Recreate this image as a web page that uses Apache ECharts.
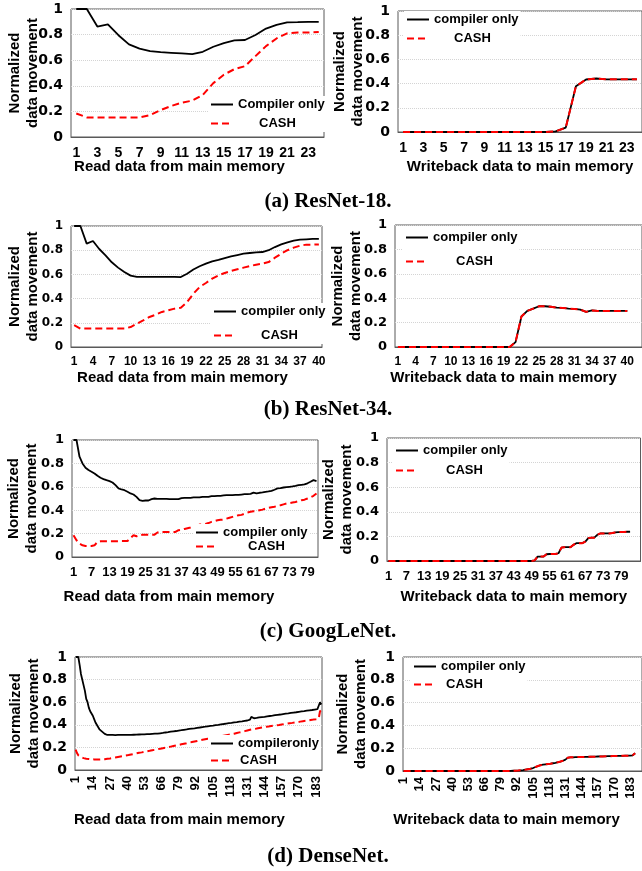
<!DOCTYPE html>
<html>
<head>
<meta charset="utf-8">
<script src="https://cdn.jsdelivr.net/npm/echarts@6/dist/echarts.min.js"></script>
<style>
  html, body { margin: 0; padding: 0; background: #fff; }
  #chart { width: 642px; height: 871px; }
</style>
</head>
<body>
<div id="chart"></div>
<script>
// ---- data ----
const resnet18Count = 24
const resnet18ReadCompiler = [1, 1, 0.863, 0.88, 0.795, 0.724, 0.69, 0.671, 0.663, 0.658, 0.653, 0.647,
  0.666, 0.705, 0.734, 0.755, 0.758, 0.797, 0.847, 0.876, 0.895, 0.897, 0.9, 0.9]
const resnet18ReadCash = [0.184, 0.153, 0.153, 0.153, 0.153, 0.153, 0.153, 0.171, 0.21, 0.242, 0.268, 0.284,
  0.329, 0.421, 0.487, 0.53, 0.553, 0.632, 0.71, 0.77, 0.81, 0.816, 0.816, 0.82]
// writeback: both curves lie on top of each other
const resnet18Write = [0, 0, 0, 0, 0, 0, 0, 0, 0, 0, 0, 0, 0, 0, 0,
  0.005, 0.036, 0.378, 0.434, 0.442, 0.435, 0.435, 0.435, 0.435]

const resnet34Count = 40
const resnet34ReadCompiler = [1, 1, 0.854, 0.876, 0.81, 0.758, 0.7, 0.656, 0.62, 0.59,
  0.579, 0.58, 0.58, 0.58, 0.58, 0.58, 0.58, 0.578, 0.606, 0.64,
  0.667, 0.689, 0.708, 0.72, 0.735, 0.749, 0.76, 0.771, 0.777, 0.782,
  0.785, 0.8, 0.826, 0.848, 0.865, 0.879, 0.887, 0.89, 0.893, 0.893]
const resnet34ReadCash = [0.18, 0.152, 0.152, 0.152, 0.152, 0.152, 0.152, 0.152, 0.152, 0.165,
  0.193, 0.22, 0.248, 0.267, 0.29, 0.303, 0.317, 0.325, 0.372, 0.44,
  0.496, 0.529, 0.565, 0.592, 0.612, 0.628, 0.642, 0.656, 0.669, 0.68,
  0.689, 0.702, 0.738, 0.771, 0.8, 0.821, 0.837, 0.846, 0.846, 0.848]
const resnet34Write = [0, 0, 0, 0, 0, 0, 0, 0, 0, 0, 0, 0, 0, 0, 0, 0, 0, 0, 0, 0,
  0.04, 0.25, 0.296, 0.315, 0.334, 0.334, 0.33, 0.323, 0.32, 0.315,
  0.312, 0.307, 0.288, 0.3, 0.296, 0.296, 0.296, 0.296, 0.296, 0.296]

const googlenetCount = 82
const googlenetReadCompiler = [1, 1, 0.857, 0.8, 0.763, 0.743, 0.729, 0.714, 0.694, 0.677,
  0.666, 0.657, 0.649, 0.637, 0.614, 0.586, 0.577, 0.571, 0.557, 0.543,
  0.534, 0.514, 0.486, 0.48, 0.483, 0.483, 0.494, 0.5, 0.497, 0.497,
  0.497, 0.497, 0.494, 0.494, 0.494, 0.494, 0.503, 0.506, 0.506, 0.506,
  0.509, 0.509, 0.509, 0.514, 0.514, 0.514, 0.52, 0.52, 0.523, 0.523,
  0.526, 0.529, 0.529, 0.529, 0.531, 0.531, 0.534, 0.537, 0.537, 0.54,
  0.55, 0.543, 0.549, 0.552, 0.557, 0.56, 0.566, 0.575, 0.586, 0.589,
  0.594, 0.597, 0.6, 0.603, 0.607, 0.614, 0.617, 0.62, 0.63, 0.643,
  0.657, 0.649]
const googlenetReadCash = [0.186, 0.143, 0.114, 0.1, 0.094, 0.094, 0.094, 0.1, 0.129, 0.134,
  0.134, 0.134, 0.134, 0.134, 0.134, 0.134, 0.137, 0.137, 0.137, 0.163,
  0.186, 0.177, 0.186, 0.191, 0.191, 0.191, 0.191, 0.191, 0.209, 0.214,
  0.214, 0.214, 0.214, 0.214, 0.214, 0.229, 0.233, 0.24, 0.246, 0.252,
  0.26, 0.266, 0.277, 0.28, 0.283, 0.29, 0.3, 0.306, 0.314, 0.318,
  0.32, 0.328, 0.336, 0.343, 0.35, 0.357, 0.36, 0.37, 0.38, 0.386,
  0.391, 0.394, 0.4, 0.405, 0.414, 0.42, 0.426, 0.43, 0.437, 0.443,
  0.45, 0.457, 0.46, 0.465, 0.47, 0.477, 0.485, 0.49, 0.5, 0.51,
  0.523, 0.543]
const googlenetWrite = [0, 0, 0, 0, 0, 0, 0, 0, 0, 0, 0, 0, 0, 0, 0, 0, 0, 0, 0, 0,
  0, 0, 0, 0, 0, 0, 0, 0, 0, 0, 0, 0, 0, 0, 0, 0, 0, 0, 0, 0,
  0, 0, 0, 0, 0, 0, 0, 0, 0,
  0.005, 0.036, 0.036, 0.036, 0.055, 0.057, 0.057, 0.057, 0.063, 0.109,
  0.112, 0.112, 0.112, 0.131, 0.145, 0.145, 0.145, 0.158, 0.186, 0.19,
  0.19, 0.213, 0.224, 0.224, 0.224, 0.224, 0.227, 0.232, 0.235, 0.235,
  0.235, 0.238, 0.238]

const densenetCount = 187
const densenetReadCompiler = [1, 1, 1, 0.93, 0.85, 0.8, 0.79, 0.7, 0.63, 0.6,
  0.55, 0.52, 0.5, 0.48, 0.45, 0.42, 0.4, 0.38, 0.36, 0.35,
  0.34, 0.33, 0.32, 0.315, 0.31, 0.31, 0.31, 0.31, 0.31, 0.309,
  0.309, 0.309, 0.31, 0.31, 0.31, 0.31, 0.31, 0.31, 0.31, 0.31,
  0.31, 0.31, 0.311, 0.311, 0.312, 0.312, 0.313, 0.313, 0.314, 0.314,
  0.315, 0.315, 0.316, 0.316, 0.317, 0.318, 0.318, 0.319, 0.32, 0.321,
  0.322, 0.328, 0.322, 0.323, 0.325, 0.327, 0.328, 0.33, 0.332, 0.333,
  0.335, 0.337, 0.339, 0.34, 0.342, 0.344, 0.345, 0.347, 0.349, 0.351,
  0.352, 0.354, 0.356, 0.357, 0.359, 0.361, 0.363, 0.364, 0.366, 0.368,
  0.369, 0.371, 0.373, 0.375, 0.376, 0.378, 0.38, 0.381, 0.383, 0.385,
  0.387, 0.388, 0.39, 0.392, 0.393, 0.395, 0.397, 0.399, 0.4, 0.402,
  0.404, 0.405, 0.407, 0.409, 0.411, 0.412, 0.414, 0.416, 0.417, 0.419,
  0.421, 0.423, 0.424, 0.426, 0.428, 0.429, 0.431, 0.433, 0.435, 0.436,
  0.438, 0.44, 0.445, 0.47, 0.455, 0.458, 0.46, 0.461, 0.463, 0.465,
  0.466, 0.468, 0.47, 0.471, 0.473, 0.475, 0.476, 0.478, 0.48, 0.481,
  0.483, 0.485, 0.486, 0.488, 0.49, 0.491, 0.493, 0.495, 0.496, 0.498,
  0.5, 0.501, 0.503, 0.505, 0.506, 0.508, 0.51, 0.511, 0.513, 0.515,
  0.516, 0.518, 0.52, 0.521, 0.523, 0.525, 0.526, 0.528, 0.53, 0.531,
  0.533, 0.535, 0.537, 0.538, 0.54, 0.6, 0.58]
const densenetReadCash = [0.18, 0.15, 0.13, 0.12, 0.115, 0.11, 0.105, 0.103, 0.1, 0.1,
  0.098, 0.097, 0.095, 0.094, 0.094, 0.093, 0.092, 0.092, 0.092, 0.093,
  0.093, 0.094, 0.095, 0.097, 0.099, 0.1, 0.102, 0.104, 0.106, 0.108,
  0.11, 0.113, 0.115, 0.117, 0.119, 0.121, 0.123, 0.126, 0.128, 0.13,
  0.132, 0.135, 0.137, 0.14, 0.142, 0.144, 0.147, 0.149, 0.152, 0.154,
  0.156, 0.159, 0.161, 0.163, 0.166, 0.168, 0.17, 0.173, 0.175, 0.177,
  0.179, 0.182, 0.184, 0.186, 0.188, 0.191, 0.193, 0.195, 0.197, 0.2,
  0.202, 0.205, 0.207, 0.21, 0.212, 0.215, 0.217, 0.22, 0.222, 0.225,
  0.227, 0.229, 0.232, 0.234, 0.237, 0.239, 0.242, 0.244, 0.247, 0.249,
  0.252, 0.254, 0.257, 0.259, 0.262, 0.264, 0.267, 0.269, 0.272, 0.274,
  0.277, 0.279, 0.282, 0.284, 0.286, 0.289, 0.291, 0.293, 0.295, 0.297,
  0.3, 0.302, 0.304, 0.306, 0.308, 0.31, 0.312, 0.314, 0.316, 0.318,
  0.321, 0.324, 0.327, 0.33, 0.333, 0.335, 0.338, 0.341, 0.344, 0.347,
  0.35, 0.353, 0.356, 0.358, 0.36, 0.362, 0.364, 0.367, 0.369, 0.371,
  0.373, 0.375, 0.377, 0.379, 0.382, 0.384, 0.385, 0.387, 0.389, 0.391,
  0.392, 0.394, 0.396, 0.398, 0.399, 0.401, 0.403, 0.405, 0.407, 0.408,
  0.41, 0.412, 0.414, 0.415, 0.417, 0.419, 0.421, 0.422, 0.424, 0.426,
  0.428, 0.43, 0.432, 0.434, 0.435, 0.437, 0.439, 0.441, 0.443, 0.445,
  0.446, 0.448, 0.45, 0.452, 0.455, 0.52, 0.53]
const densenetWrite = [0, 0, 0, 0, 0, 0, 0, 0, 0, 0, 0, 0, 0, 0, 0, 0, 0, 0, 0, 0,
  0, 0, 0, 0, 0, 0, 0, 0, 0, 0, 0, 0, 0, 0, 0, 0, 0, 0, 0, 0,
  0, 0, 0, 0, 0, 0, 0, 0, 0, 0, 0, 0, 0, 0, 0, 0, 0, 0, 0, 0,
  0, 0, 0, 0, 0, 0, 0, 0, 0, 0, 0, 0, 0, 0, 0, 0, 0, 0, 0, 0,
  0, 0, 0, 0, 0,
  0.001, 0.001, 0.002, 0.002, 0.002,
  0.003, 0.003, 0.004, 0.005, 0.006, 0.007, 0.008, 0.01, 0.012, 0.014,
  0.016, 0.018, 0.02, 0.023, 0.026, 0.03, 0.035, 0.04, 0.044, 0.048,
  0.051, 0.053, 0.055, 0.057, 0.058, 0.06, 0.061, 0.062, 0.064, 0.066,
  0.068, 0.07, 0.072, 0.074, 0.077, 0.08, 0.083, 0.087, 0.09, 0.095,
  0.1, 0.108, 0.117, 0.119, 0.12, 0.12, 0.12, 0.121, 0.121, 0.121,
  0.122, 0.122, 0.122, 0.123, 0.123, 0.123, 0.124, 0.124, 0.124, 0.125,
  0.125, 0.125, 0.126, 0.126, 0.126, 0.127, 0.127, 0.127, 0.128, 0.128,
  0.128, 0.129, 0.129, 0.129, 0.13, 0.13, 0.13, 0.131, 0.131, 0.131,
  0.132, 0.132, 0.132, 0.133, 0.133, 0.133, 0.133, 0.134, 0.134, 0.134,
  0.134, 0.135, 0.135, 0.136, 0.138, 0.15, 0.155]

const captions = ['(a) ResNet-18.', '(b) ResNet-34.', '(c) GoogLeNet.', '(d) DenseNet.']
const yName = 'Normalized\ndata movement'
const readName = 'Read data from main memory'
const writeName = 'Writeback data to main memory'

// ---- layout of the eight panels ----
function cats (n) {
  const out = []
  for (let i = 1; i <= n; i++) out.push(String(i))
  return out
}

// extra = empty category slots after the data, so the frame runs off the right edge
const panels = [
  { grid: [71, 9, 253, 128], n: resnet18Count, extra: 0, step: 1, rot: 0, xFont: ['Liberation Sans', 14], yFont: 14,
    xName: readName, shift: 18, nameGap: 22, yGap: 29, cName: 'Compiler only',
    c: resnet18ReadCompiler, h: resnet18ReadCash, leg: [208, 96, 6], pad: 21 },
  { grid: [398, 11, 247, 121], n: resnet18Count, extra: 0, step: 1, rot: 0, xFont: ['Liberation Sans', 14], yFont: 14,
    xName: writeName, shift: 0, nameGap: 27, yGap: 31, cName: 'compiler only',
    c: resnet18Write, h: resnet18Write, leg: [404, 11, 6], pad: 20 },
  { grid: [71, 226, 251, 121], n: resnet34Count, extra: 0, step: 2, rot: 0, xFont: ['Liberation Sans', 12], yFont: 12,
    xName: readName, shift: 14, nameGap: 23, yGap: 29, cName: 'compiler only',
    c: resnet34ReadCompiler, h: resnet34ReadCash, leg: [211, 303, 11], pad: 20 },
  { grid: [395, 225, 253, 122], n: resnet34Count, extra: 2, step: 2, rot: 0, xFont: ['Liberation Sans', 12], yFont: 13,
    xName: writeName, shift: 15, nameGap: 23, yGap: 30, cName: 'compiler only',
    c: resnet34Write, h: resnet34Write, leg: [403, 229, 11], pad: 23 },
  { grid: [72, 440, 246, 117], n: googlenetCount, extra: 0, step: 5, rot: 0, xFont: ['Liberation Sans', 13], yFont: 13,
    xName: readName, shift: 26, nameGap: 32, yGap: 31, cName: 'compiler only',
    c: googlenetReadCompiler, h: googlenetReadCash, leg: [193, 524, 1], pad: 25 },
  { grid: [387, 438, 259, 123], n: googlenetCount, extra: 3, step: 5, rot: 0, xFont: ['Liberation Sans', 13], yFont: 13,
    xName: writeName, shift: 0, nameGap: 28, yGap: 31, cName: 'compiler only',
    c: googlenetWrite, h: googlenetWrite, leg: [393, 442, 7], pad: 23 },
  { grid: [75, 657, 247, 113], n: densenetCount, extra: 0, step: 12, rot: 90, xFont: ['Liberation Sans', 13], yFont: 14,
    xName: readName, shift: 19, nameGap: 42, yGap: 32, cName: 'compileronly',
    c: densenetReadCompiler, h: densenetReadCash, leg: [208, 735, 4], pad: 2 },
  { grid: [403, 657, 243, 114], n: densenetCount, extra: 5, step: 12, rot: 90, xFont: ['Liberation Sans', 13], yFont: 14,
    xName: writeName, shift: 16, nameGap: 41, yGap: 33, cName: 'compiler only',
    c: densenetWrite, h: densenetWrite, leg: [411, 658, 5], pad: 5 }
]

const bold = { fontWeight: 'bold', color: '#000' }
const option = {
  animation: false,
  backgroundColor: '#fff',
  grid: [], xAxis: [], yAxis: [], series: [], legend: [], graphic: []
}

panels.forEach((p, i) => {
  option.grid.push({
    left: p.grid[0], top: p.grid[1], width: p.grid[2], height: p.grid[3],
    show: true, borderColor: '#595959', borderWidth: 1, containLabel: false
  })
  option.xAxis.push({
    type: 'category',
    gridIndex: i,
    data: cats(p.n),
    max: p.n - 1 + p.extra,
    boundaryGap: true,
    axisLine: { lineStyle: { color: '#595959' } },
    axisTick: { show: false },
    axisLabel: Object.assign({
      interval: p.step, rotate: p.rot, margin: p.rot ? 6 : 9,
      fontFamily: p.xFont[0], fontSize: p.xFont[1],
      formatter: v => v == null ? '' : v
    }, bold),
    name: p.xName,
    nameLocation: 'middle',
    nameGap: p.nameGap,
    nameMoveOverlap: false,
    nameTextStyle: Object.assign({
      fontFamily: 'Liberation Sans', fontSize: 15, padding: [0, p.shift * 2, 0, 0]
    }, bold)
  })
  option.yAxis.push({
    type: 'value',
    gridIndex: i,
    min: 0, max: 1, interval: 0.2,
    axisLine: { show: false },
    axisTick: { show: false },
    splitLine: { lineStyle: { color: '#d4d4d4', type: 'dotted' } },
    axisLabel: Object.assign({ margin: 8, fontFamily: 'DejaVu Sans', fontSize: p.yFont }, bold),
    name: yName,
    nameLocation: 'middle',
    nameGap: p.yGap,
    nameMoveOverlap: false,
    nameTextStyle: Object.assign({ fontFamily: 'Liberation Sans', fontSize: 15, lineHeight: 18 }, bold)
  })
  option.series.push({
    name: p.cName, type: 'line', xAxisIndex: i, yAxisIndex: i, data: p.c,
    symbol: 'none', z: 2,
    itemStyle: { color: '#000' },
    lineStyle: { color: '#000', width: 1.8 }
  })
  option.series.push({
    name: 'CASH', type: 'line', xAxisIndex: i, yAxisIndex: i, data: p.h,
    symbol: 'none', z: 3,
    itemStyle: { color: '#ff0000' },
    lineStyle: { color: '#ff0000', width: 2, type: [7, 4] }
  })
  option.legend.push({
    orient: 'vertical',
    left: p.leg[0], top: p.leg[1], itemGap: p.leg[2],
    padding: 2,
    backgroundColor: '#fff',
    itemWidth: 22, itemHeight: 14,
    selectedMode: false,
    // hide the marker circle, keep only the line sample
    itemStyle: { color: 'rgba(0,0,0,0)', borderWidth: 0, opacity: 0 },
    data: [p.cName, 'CASH'],
    formatter: name => name === 'CASH' ? '{g|}CASH' : name,
    textStyle: {
      fontFamily: 'Liberation Sans', fontSize: 13, fontWeight: 'bold', color: '#000',
      rich: { g: { width: p.pad } }
    }
  })
})

const captionY = [202, 410, 632, 857]
captions.forEach((t, i) => {
  option.graphic.push({
    type: 'text', x: 328, y: captionY[i],
    style: {
      text: t, textAlign: 'center', textVerticalAlign: 'middle',
      font: 'bold 21px "Liberation Serif"', fill: '#000'
    }
  })
})

const myChart = echarts.init(document.getElementById('chart'))
myChart.setOption(option)
</script>
</body>
</html>
